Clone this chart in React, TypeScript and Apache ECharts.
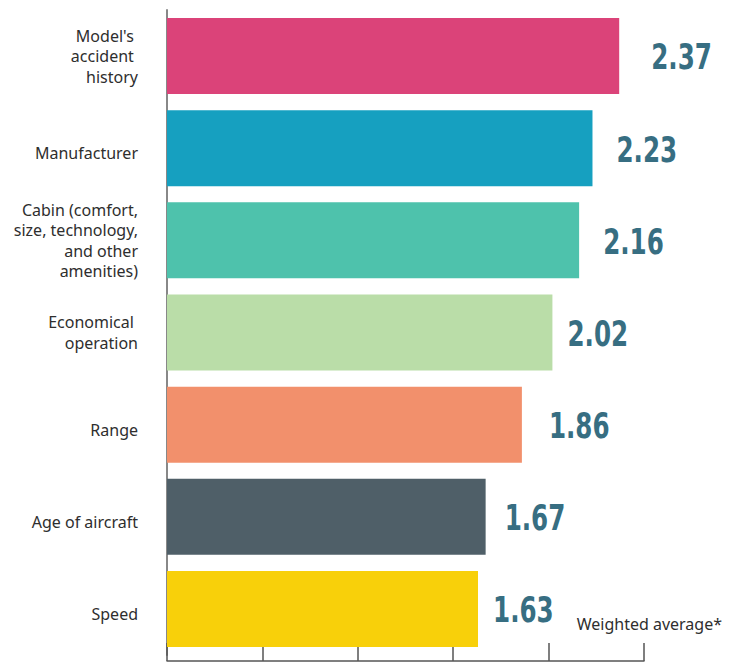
import React, { useEffect, useRef } from "react";
import * as echarts from "echarts";

const categories = [
  "Model's \naccident \nhistory",
  "Manufacturer",
  "Cabin (comfort,\nsize, technology,\nand other\namenities)",
  "Economical \noperation",
  "Range",
  "Age of aircraft",
  "Speed",
];
const values = [2.37, 2.23, 2.16, 2.02, 1.86, 1.67, 1.63];
const barColors = ["#DB4379", "#16A0C0", "#4EC2AC", "#BADDA8", "#F2906C", "#4F5F68", "#F8D00A"];
const labelGaps = [32, 24, 24, 15, 27, 19, 15];
const axisNote = "Weighted average*";

const TEXT_FONT = "'Noto Sans', 'Open Sans', sans-serif";

export default function App() {
  const ref = useRef<HTMLDivElement>(null);
  useEffect(() => {
    document.body.style.margin = "0";
    const chart = echarts.init(ref.current!, null, { renderer: "svg" });
    chart.setOption({
      animation: false,
      grid: { left: 167, right: 94, top: 10, height: 645, containLabel: false },
      xAxis: {
        type: "value",
        min: 0,
        max: 2.5,
        interval: 0.5,
        offset: 6,
        axisLabel: { show: false },
        splitLine: { show: false },
        axisLine: { show: true, lineStyle: { color: "#555", width: 1.5 } },
        axisTick: { show: true, inside: true, length: 18, lineStyle: { color: "#555", width: 1.5 } },
      },
      yAxis: {
        type: "category",
        inverse: true,
        data: categories,
        axisTick: { show: false },
        axisLine: { show: true, lineStyle: { color: "#888", width: 2 } },
        axisLabel: {
          margin: 29,
          fontFamily: TEXT_FONT,
          fontSize: 16,
          lineHeight: 20.5,
          color: "#2e2e2e",
          align: "right",
          formatter: (v: string) => (v.includes("\n") ? v : `{s|${v}}`),
          rich: {
            s: {
              fontFamily: TEXT_FONT,
              fontSize: 16,
              lineHeight: 20.5,
              color: "#2e2e2e",
              padding: [10, 0, 0, 0],
            },
          },
        },
      },
      series: [
        {
          type: "bar",
          barWidth: 76,
          data: values.map((v, i) => ({ value: v, itemStyle: { color: barColors[i] } })),
        },
        {
          type: "custom",
          data: values.map((v, i) => [v, i]),
          encode: { x: 0, y: 1 },
          z: 5,
          renderItem: (params: any, api: any) => {
            const v = api.value(0);
            const i = api.value(1);
            const pt = api.coord([v, i]);
            return {
              type: "text",
              x: pt[0] + labelGaps[i],
              y: pt[1] + 1,
              scaleX: 0.76,
              style: {
                text: v.toFixed(2),
                fontFamily: "'DejaVu Sans Condensed', 'DejaVu Sans', sans-serif",
                fontWeight: "bold",
                fontSize: 36,
                fill: "#376E82",
                align: "left",
                verticalAlign: "middle",
              },
            };
          },
        },
      ],
      graphic: [
        {
          type: "text",
          right: 16,
          top: 616,
          style: {
            text: axisNote,
            fontFamily: TEXT_FONT,
            fontSize: 16,
            fill: "#2e2e2e",
          },
        },
      ],
    });
    return () => chart.dispose();
  }, []);
  return <div ref={ref} style={{ width: 738, height: 662 }} />;
}
